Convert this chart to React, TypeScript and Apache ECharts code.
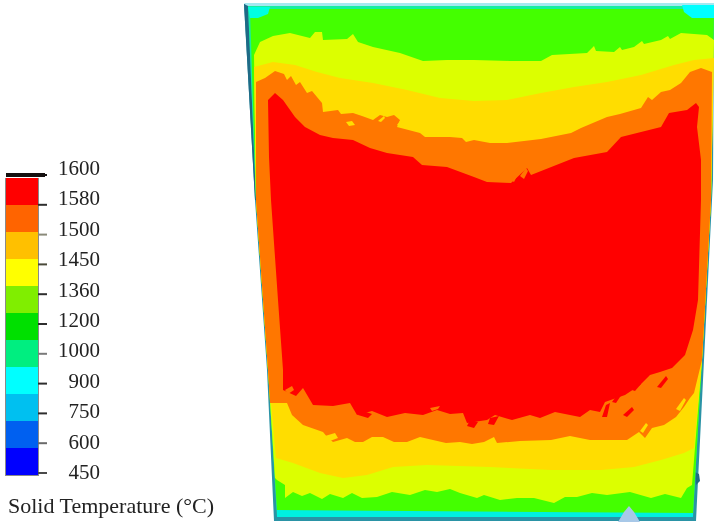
import React, { useEffect, useRef } from "react";
import * as echarts from "echarts";

// Colour bar
const legendLabels = ["1600", "1580", "1500", "1450", "1360", "1200", "1000", "900", "750", "600", "450"];
const legendColors = ["#ff0000", "#ff6400", "#ffc000", "#ffff00", "#80ee00", "#00e000", "#00ee80", "#00ffff", "#00c0f0", "#0060f0", "#0000ff"];
const legendTickColors = ["#151010", "#2e2e2e", "#8a8a7a", "#4a4a3a", "#2e2e2e", "#2e2e2e", "#7a7a7a", "#2e2e2e", "#2e2e2e", "#6a6a6a", "#4a4a4a"];
const legendTitle = "Solid Temperature (°C)";

// Contour field (x, y in image units)
const frameOutline = [[244, 4], [714, 4], [713, 180], [704, 360], [696, 521], [274, 521], [267, 370], [255, 200]];
const frameTop = [[244, 3], [714, 3], [714, 6], [246, 6]];
const frameDark = [[244, 4], [248, 6], [256, 200], [255, 200]];
const frameBump = [[695, 472], [699, 474], [700, 481], [696, 485]];
const fieldOutline = [[248, 6], [714, 6], [711, 200], [702, 360], [693, 517], [277, 517], [268, 370], [256, 200]];
const bottomCyan = [[277, 510], [693, 512], [693, 517], [277, 517]];
const cornerLeft = [[248, 7], [270, 7], [268, 14], [258, 18], [250, 18]];
const cornerRight = [[682, 5], [714, 5], [714, 18], [692, 18], [684, 12]];
const blob = [[629, 506], [634, 512], [640, 522], [618, 522], [624, 512]];

const greenTop = [[256, 200], [250, 9], [714, 9], [711, 200]];
const greenBottom = [[268, 370], [277, 510], [693, 513], [702, 360]];

const limeTop = [[256, 200], [254, 55], [260, 42], [273, 36], [290, 33], [310, 38], [315, 32], [322, 32], [323, 40], [347, 39], [353, 34], [358, 42], [373, 47], [400, 53], [423, 61], [447, 60], [474, 60], [510, 61], [541, 61], [552, 55], [587, 53], [594, 46], [596, 51], [614, 52], [620, 47], [622, 50], [634, 47], [642, 41], [644, 44], [661, 40], [668, 36], [670, 39], [681, 33], [707, 35], [714, 40], [711, 200]];
const limeBottom = [[268, 370], [275, 478], [277, 480], [285, 485], [285, 498], [293, 492], [302, 496], [310, 493], [322, 499], [330, 494], [343, 498], [352, 493], [362, 498], [377, 497], [392, 492], [410, 495], [425, 490], [437, 492], [450, 489], [460, 493], [477, 498], [484, 495], [500, 500], [517, 498], [534, 498], [554, 503], [565, 497], [577, 497], [592, 493], [607, 495], [630, 492], [651, 498], [665, 494], [681, 498], [687, 488], [692, 485], [702, 360]];

const amberTop = [[256, 200], [254, 67], [273, 62], [295, 65], [317, 72], [340, 78], [373, 83], [407, 90], [440, 98], [474, 101], [507, 100], [541, 93], [574, 87], [607, 82], [641, 75], [674, 65], [694, 60], [714, 58], [711, 200]];
const amberBottom = [[268, 370], [276, 458], [293, 463], [320, 473], [343, 478], [367, 475], [393, 467], [427, 465], [490, 467], [551, 470], [601, 470], [634, 467], [661, 460], [684, 453], [694, 448], [702, 360]];

const orangeTop = [[256, 200], [256, 82], [265, 78], [275, 71], [284, 74], [287, 80], [291, 76], [296, 85], [300, 82], [307, 93], [312, 91], [322, 103], [323, 112], [338, 110], [341, 114], [353, 113], [362, 116], [373, 120], [380, 115], [387, 117], [394, 115], [400, 120], [397, 127], [420, 133], [425, 137], [450, 137], [462, 138], [466, 142], [474, 140], [490, 143], [507, 143], [541, 139], [571, 133], [581, 128], [607, 117], [620, 114], [641, 108], [648, 97], [652, 100], [661, 92], [670, 90], [681, 83], [690, 72], [701, 68], [712, 72], [711, 200]];
const orangeBottom = [[268, 370], [270, 403], [287, 403], [292, 415], [303, 425], [323, 432], [328, 438], [333, 442], [347, 438], [355, 442], [363, 442], [372, 437], [383, 437], [394, 442], [407, 442], [420, 437], [433, 440], [446, 443], [460, 442], [472, 444], [484, 442], [494, 437], [497, 443], [520, 441], [551, 440], [570, 436], [590, 440], [627, 440], [639, 432], [645, 438], [652, 428], [664, 425], [676, 417], [684, 407], [690, 398], [694, 393], [702, 360]];

const redOutline = [[275, 93], [283, 100], [295, 117], [305, 127], [320, 135], [333, 138], [353, 140], [370, 148], [387, 153], [413, 157], [422, 165], [447, 167], [474, 177], [487, 182], [511, 183], [527, 168], [531, 175], [574, 158], [607, 152], [621, 137], [661, 127], [669, 113], [687, 110], [696, 103], [699, 107], [697, 127], [701, 160], [701, 200], [698, 300], [693, 330], [685, 355], [672, 368], [660, 372], [650, 375], [640, 385], [625, 395], [605, 402], [600, 412], [590, 410], [580, 417], [570, 415], [555, 412], [540, 418], [530, 415], [512, 420], [495, 415], [487, 420], [467, 423], [463, 413], [450, 414], [437, 410], [423, 415], [405, 413], [387, 417], [372, 411], [357, 415], [350, 403], [333, 406], [313, 405], [303, 388], [296, 396], [283, 390], [283, 370], [278, 300], [271, 200], [269, 157], [268, 100]];

const redStreaks = [
  [[602, 417], [606, 405], [610, 403], [607, 417]],
  [[623, 415], [632, 407], [634, 410], [627, 417]],
  [[612, 402], [620, 391], [622, 394], [616, 403]],
  [[632, 390], [640, 381], [641, 384], [635, 391]],
  [[657, 387], [666, 376], [668, 379], [661, 388]],
  [[360, 410], [372, 414], [368, 418], [358, 415]],
  [[470, 420], [478, 422], [474, 428], [467, 426]],
  [[490, 418], [499, 416], [494, 425], [488, 424]],
];
const orangeStreaks = [
  [[285, 390], [292, 386], [294, 390], [288, 394]],
  [[511, 180], [516, 172], [518, 174], [514, 182]],
  [[520, 176], [526, 168], [528, 171], [524, 179]],
  [[430, 408], [440, 406], [438, 409], [432, 411]],
];
const amberStreaks = [
  [[397, 125], [403, 117], [404, 119], [400, 126]],
  [[378, 121], [384, 116], [385, 118], [381, 122]],
  [[346, 122], [352, 121], [355, 125], [349, 126]],
  [[325, 436], [335, 433], [338, 438], [330, 441]],
  [[640, 431], [646, 423], [648, 425], [643, 433]],
  [[676, 409], [684, 398], [686, 400], [680, 411]],
];

const band = (top: number[][], bottom: number[][]) => [...top, ...[...bottom].reverse()];

const layers: { fill: string; points: number[][] }[] = [
  { fill: "#2a93a6", points: frameOutline },
  { fill: "#a4e8f0", points: frameTop },
  { fill: "#1f6a86", points: frameDark },
  { fill: "#1f6a86", points: frameBump },
  { fill: "#18eea0", points: fieldOutline },
  { fill: "#00f0e0", points: bottomCyan },
  { fill: "#44ff00", points: band(greenTop, greenBottom) },
  { fill: "#00ffe0", points: cornerLeft },
  { fill: "#00ffff", points: cornerRight },
  { fill: "#dcff00", points: band(limeTop, limeBottom) },
  { fill: "#ffdd00", points: band(amberTop, amberBottom) },
  { fill: "#ff7700", points: band(orangeTop, orangeBottom) },
  ...amberStreaks.map((points) => ({ fill: "#ffdd00", points })),
  { fill: "#ff0000", points: redOutline },
  ...redStreaks.map((points) => ({ fill: "#ff0000", points })),
  ...orangeStreaks.map((points) => ({ fill: "#ff7700", points })),
  { fill: "#a8c8e8", points: blob },
];

const font = '"Liberation Serif", serif';

export default function App() {
  const ref = useRef<HTMLDivElement>(null);
  useEffect(() => {
    const chart = echarts.init(ref.current!, null, { renderer: "svg" });
    chart.setOption({
      animation: false,
      backgroundColor: "#ffffff",
      grid: [
        { left: 0, top: 0, width: 714, height: 523 },
        { left: 6, top: 178, width: 32, height: 297 },
        { left: 38, top: 175, width: 9, height: 298 },
        { left: 100, top: 168, width: 1, height: 304 },
      ],
      xAxis: [
        { gridIndex: 0, type: "value", min: 0, max: 714, show: false },
        { gridIndex: 1, type: "value", min: 0, max: 1, show: false },
        { gridIndex: 2, type: "value", min: 0, max: 1, show: false },
        { gridIndex: 3, type: "value", min: 0, max: 1, show: false },
      ],
      yAxis: [
        { gridIndex: 0, type: "value", min: 0, max: 523, inverse: true, show: false },
        { gridIndex: 1, type: "category", data: legendLabels, inverse: true, show: false },
        { gridIndex: 2, type: "value", min: 0, max: 10, inverse: true, show: false },
        {
          gridIndex: 3, type: "category", data: legendLabels, inverse: true, boundaryGap: false,
          axisLine: { show: false },
          axisTick: { show: false },
          axisLabel: { show: true, interval: 0, margin: 0, fontFamily: font, fontSize: 21, color: "#222222", align: "right" },
        },
      ],
      graphic: [
        { type: "rect", x: 5, y: 178, shape: { width: 34, height: 298 }, style: { fill: "#8a8a8a" } },
        { type: "rect", x: 6, y: 173, shape: { width: 39, height: 4 }, style: { fill: "#151010" } },
        { type: "text", x: 8, y: 494, style: { text: legendTitle, fontFamily: font, fontSize: 22, fill: "#222222" } },
      ],
      series: [
        {
          type: "custom",
          xAxisIndex: 0,
          yAxisIndex: 0,
          coordinateSystem: "cartesian2d",
          silent: true,
          clip: false,
          data: layers.map((_, i) => [i]),
          encode: { x: -1, y: -1 },
          renderItem: (_: unknown, api: any) => {
            const layer = layers[api.value(0)];
            return {
              type: "polygon",
              shape: { points: layer.points.map((p) => api.coord(p)) },
              style: { fill: layer.fill },
            };
          },
        },
        {
          type: "bar",
          xAxisIndex: 1,
          yAxisIndex: 1,
          barWidth: "100%",
          silent: true,
          z: 3,
          data: legendColors.map((color) => ({ value: 1, itemStyle: { color } })),
        },
        {
          type: "custom",
          xAxisIndex: 2,
          yAxisIndex: 2,
          coordinateSystem: "cartesian2d",
          silent: true,
          clip: false,
          z: 4,
          data: legendTickColors.map((_, i) => [i]),
          encode: { x: -1, y: -1 },
          renderItem: (_: unknown, api: any) => {
            const i = api.value(0);
            const a = api.coord([0, i]);
            const b = api.coord([1, i]);
            return {
              type: "line",
              shape: { x1: a[0], y1: a[1], x2: b[0], y2: b[1] },
              style: { stroke: legendTickColors[i], lineWidth: 2 },
            };
          },
        },
      ],
    });
    return () => chart.dispose();
  }, []);
  return (
    <div
      ref={ref}
      style={{ position: "fixed", left: 0, top: 0, width: 714, height: 523, filter: "blur(0.6px)" }}
    />
  );
}
